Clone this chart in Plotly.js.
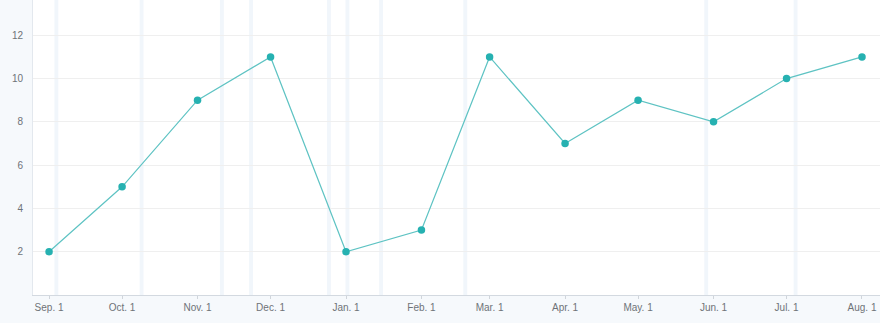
<!DOCTYPE html>
<html>
<head>
<meta charset="utf-8">
<script src="https://cdn.plot.ly/plotly-3.0.1.min.js"></script>
<style>
html,body{margin:0;padding:0;background:#f6f9fc;}
#chart{width:880px;height:323px;}
</style>
</head>
<body>
<div id="chart"></div>
<script>
// Data
const dates = ["2018-09-01","2018-10-01","2018-11-01","2018-12-01","2019-01-01","2019-02-01",
               "2019-03-01","2019-04-01","2019-05-01","2019-06-01","2019-07-01","2019-08-01"];
const values = [2, 5, 9, 11, 2, 3, 11, 7, 9, 8, 10, 11];
const tickLabels = ["Sep. 1","Oct. 1","Nov. 1","Dec. 1","Jan. 1","Feb. 1",
                    "Mar. 1","Apr. 1","May. 1","Jun. 1","Jul. 1","Aug. 1"];
const yTicks = [2, 4, 6, 8, 10, 12];
// highlighted days (centres of light vertical bands)
const bandDays = ["2018-09-04","2018-10-09","2018-11-11","2018-11-23","2018-12-25",
                  "2019-01-01 14:00","2019-01-15 10:00","2019-02-19","2019-05-29","2019-07-04 17:00"];

const DAY = 86400000;
function toStr(ms){
  const d = new Date(ms);
  const p = n => String(n).padStart(2,'0');
  return d.getUTCFullYear()+"-"+p(d.getUTCMonth()+1)+"-"+p(d.getUTCDate())+" "+p(d.getUTCHours())+":"+p(d.getUTCMinutes());
}
function ms(s){
  if (s.length === 10) return Date.parse(s+"T00:00:00Z");
  return Date.parse(s.replace(" ","T")+":00Z");
}

const shapes = bandDays.map(d => {
  const c = ms(d);
  return {type:"rect", xref:"x", yref:"paper", x0: toStr(c - 0.8*DAY), x1: toStr(c + 0.8*DAY),
          y0:0, y1:1, fillcolor:"#f1f6fb", line:{width:0}, layer:"below"};
});

const xStart = toStr(ms(dates[0]) - 6.6*DAY);
const xEnd = toStr(ms(dates[dates.length-1]) + 7.4*DAY);

const trace = {
  x: dates, y: values, type:"scatter", mode:"lines+markers",
  line:{color:"#5ec3c3", width:1.2},
  marker:{color:"#26b1b1", size:7.5},
  hoverinfo:"x+y"
};

const layout = {
  width:880, height:323,
  margin:{l:33, r:0, t:0, b:28, pad:0},
  paper_bgcolor:"#f6f9fc",
  plot_bgcolor:"#ffffff",
  font:{family:"Liberation Sans, Arial, sans-serif", size:10, color:"#6f7378"},
  showlegend:false,
  shapes: shapes,
  xaxis:{
    type:"date", range:[xStart, xEnd],
    tickvals: dates, ticktext: tickLabels,
    showgrid:false, zeroline:false,
    showline:true, linecolor:"#d3d9e0", linewidth:1,
    ticks:"outside", ticklen:3, tickcolor:"#d0d5db", tickwidth:1,
    tickfont:{size:10, color:"#6f7378"}
  },
  yaxis:{
    range:[0, 13.63], tickvals: yTicks,
    showgrid:true, gridcolor:"#efefef", gridwidth:1,
    zeroline:false, showline:true, linecolor:"#e3e8ee", linewidth:1,
    ticks:"", ticklabelstandoff:7,
    tickfont:{size:10, color:"#6f7378"}
  }
};

Plotly.newPlot("chart", [trace], layout, {displayModeBar:false, staticPlot:true});
</script>
</body>
</html>
